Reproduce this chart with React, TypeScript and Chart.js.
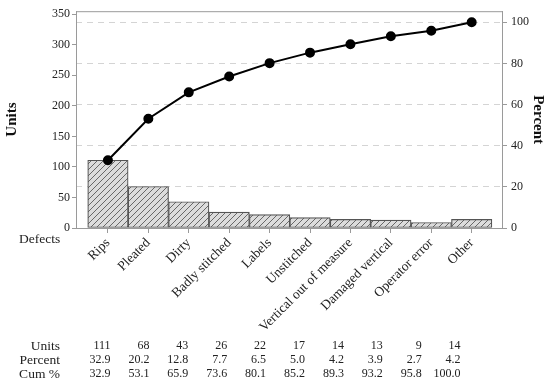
import React, { useEffect, useRef } from "react";
import { Chart, registerables } from "chart.js";

Chart.register(...registerables);

const categories = [
  "Rips",
  "Pleated",
  "Dirty",
  "Badly stitched",
  "Labels",
  "Unstitched",
  "Vertical out of measure",
  "Damaged vertical",
  "Operator error",
  "Other",
];
const units = [111, 68, 43, 26, 22, 17, 14, 13, 9, 14];
const percent = [32.9, 20.2, 12.8, 7.7, 6.5, 5.0, 4.2, 3.9, 2.7, 4.2];
const cumPercent = [32.9, 53.1, 65.9, 73.6, 80.1, 85.2, 89.3, 93.2, 95.8, 100.0];
const unitTicks = [0, 50, 100, 150, 200, 250, 300, 350];
const percentTicks = [0, 20, 40, 60, 80, 100];

const FONT = "'Liberation Serif', 'DejaVu Serif', serif";
const AXIS_GREY = "#9a9a9a";

function makeHatch(): CanvasPattern | string {
  const c = document.createElement("canvas");
  const s = 6;
  c.width = s;
  c.height = s;
  const g = c.getContext("2d");
  if (!g) return "#dcdcdc";
  g.fillStyle = "#dcdcdc";
  g.fillRect(0, 0, s, s);
  g.strokeStyle = "#5a5a5a";
  g.lineWidth = 0.9;
  g.beginPath();
  g.moveTo(-1, s + 1);
  g.lineTo(s + 1, -1);
  g.moveTo(-1, 1);
  g.lineTo(1, -1);
  g.moveTo(s - 1, s + 1);
  g.lineTo(s + 1, s - 1);
  g.stroke();
  const p = g.createPattern(c, "repeat");
  return p || "#dcdcdc";
}

export default function App() {
  const ref = useRef<HTMLCanvasElement | null>(null);

  useEffect(() => {
    if (!ref.current) return;
    const total = units.reduce((a, b) => a + b, 0);
    const leftMax = 355;
    const rightMax = (leftMax / total) * 100;

    const extras = {
      id: "extras",
      afterDraw(chart: any) {
        const { ctx, chartArea } = chart;
        ctx.save();
        // top frame line
        ctx.strokeStyle = AXIS_GREY;
        ctx.lineWidth = 1;
        ctx.beginPath();
        ctx.moveTo(chartArea.left, chartArea.top + 0.5);
        ctx.lineTo(chartArea.right, chartArea.top + 0.5);
        ctx.stroke();
        // Defects label
        ctx.fillStyle = "#222";
        ctx.font = `13.5px ${FONT}`;
        ctx.textBaseline = "middle";
        ctx.textAlign = "left";
        ctx.fillText("Defects", 19, 239);
        // summary table
        const rows: [string, string[]][] = [
          ["Units", units.map((v) => String(v))],
          ["Percent", percent.map((v) => v.toFixed(1))],
          ["Cum %", cumPercent.map((v) => v.toFixed(1))],
        ];
        const rowY = [346, 360, 374];
        rows.forEach(([label, vals], r) => {
          ctx.textAlign = "right";
          ctx.font = `13.5px ${FONT}`;
          ctx.fillText(label, 60, rowY[r]);
          ctx.font = `12px ${FONT}`;
          vals.forEach((t, i) => {
            ctx.fillText(t, 110.5 + i * 38.9, rowY[r]);
          });
        });
        ctx.restore();
      },
    };

    const chart = new Chart(ref.current, {
      type: "bar",
      data: {
        datasets: [
          {
            type: "line",
            label: "Cum %",
            data: cumPercent.map((v, i) => ({ x: i, y: v })),
            yAxisID: "y1",
            xAxisID: "x",
            borderColor: "#000",
            backgroundColor: "#000",
            borderWidth: 2,
            pointRadius: 4,
            pointBackgroundColor: "#000",
            pointBorderColor: "#000",
            order: 0,
          } as any,
          {
            type: "bar",
            label: "Units",
            data: units.map((v, i) => ({ x: i, y: v })),
            yAxisID: "y",
            xAxisID: "x",
            backgroundColor: makeHatch() as any,
            borderColor: "#555",
            borderWidth: 1.2,
            borderSkipped: false,
            barPercentage: 1,
            categoryPercentage: 1,
            order: 1,
          } as any,
        ],
      },
      options: {
        responsive: false,
        animation: false,
        devicePixelRatio: 1,
        layout: { padding: { top: 9, left: 0, right: 0, bottom: 0 } },
        plugins: {
          legend: { display: false },
          tooltip: { enabled: false },
        },
        scales: {
          x: {
            type: "linear",
            offset: false,
            min: -0.79,
            max: 9.75,
            afterFit(scale: any) {
              scale.height = 157;
            },
            afterBuildTicks(scale: any) {
              scale.ticks = categories.map((_, i) => ({ value: i }));
            },
            ticks: {
              autoSkip: false,
              stepSize: 1,
              includeBounds: false,
              minRotation: 45,
              maxRotation: 45,
              padding: 2,
              color: "#222",
              font: { family: FONT, size: 13.5 },
              callback: (v: any) => categories[Math.round(Number(v))] ?? "",
            },
            grid: {
              display: true,
              offset: false,
              drawOnChartArea: false,
              drawTicks: true,
              tickLength: 5,
              tickColor: AXIS_GREY,
              color: AXIS_GREY,
            },
            border: { display: true, color: AXIS_GREY, width: 1 },
          },
          y: {
            type: "linear",
            position: "left",
            min: 0,
            max: leftMax,
            afterFit(scale: any) {
              scale.width = 76;
            },
            afterBuildTicks(scale: any) {
              scale.ticks = unitTicks.map((v) => ({ value: v }));
            },
            ticks: {
              includeBounds: false,
              stepSize: 50,
              padding: 2,
              color: "#222",
              font: { family: FONT, size: 12 },
            },
            grid: {
              display: true,
              drawOnChartArea: false,
              drawTicks: true,
              tickLength: 4,
              tickColor: AXIS_GREY,
              color: AXIS_GREY,
            },
            border: { display: true, color: AXIS_GREY, width: 1 },
            title: {
              display: true,
              text: "Units",
              color: "#111",
              font: { family: FONT, size: 15, weight: "bold" },
              padding: { top: 3, bottom: 0 },
            },
          },
          y1: {
            type: "linear",
            position: "right",
            min: 0,
            max: rightMax,
            afterFit(scale: any) {
              scale.width = 48;
            },
            afterBuildTicks(scale: any) {
              scale.ticks = percentTicks.map((v) => ({ value: v }));
            },
            ticks: {
              includeBounds: false,
              stepSize: 20,
              padding: 4,
              color: "#222",
              font: { family: FONT, size: 12 },
            },
            grid: {
              display: true,
              drawOnChartArea: true,
              drawTicks: true,
              tickLength: 5,
              tickColor: AXIS_GREY,
              color: (ctx: any) => (ctx.tick && ctx.tick.value === 0 ? "rgba(0,0,0,0)" : "#d4d4d4"),
            },
            border: { display: true, color: AXIS_GREY, width: 1, dash: [6, 5] },
            title: {
              display: true,
              text: "Percent",
              color: "#111",
              font: { family: FONT, size: 15, weight: "bold" },
              padding: { top: 3, bottom: 0 },
            },
          },
        },
      } as any,
      plugins: [extras],
    });

    return () => chart.destroy();
  }, []);

  return (
    <div style={{ position: "fixed", left: 0, top: 0, width: 550, height: 385, background: "#fff" }}>
      <canvas ref={ref} width={550} height={385} style={{ width: 550, height: 385 }} />
    </div>
  );
}
